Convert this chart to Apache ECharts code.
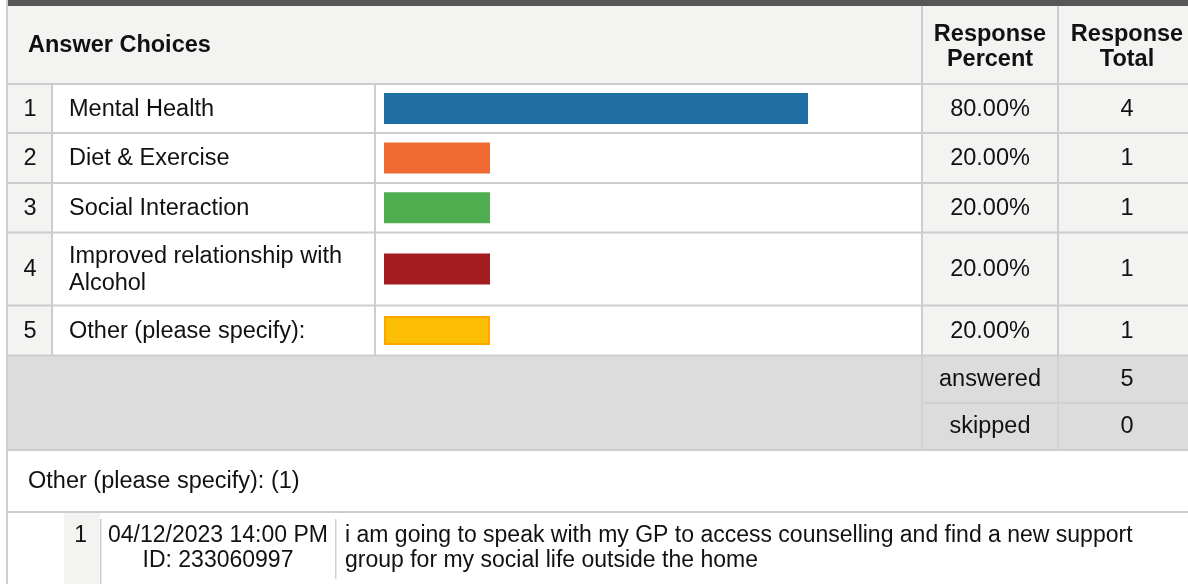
<!DOCTYPE html>
<html>
<head>
<meta charset="utf-8">
<script src="https://cdn.jsdelivr.net/npm/echarts@6/dist/echarts.min.js"></script>
<style>
  html, body { margin: 0; padding: 0; background: #ffffff; }
  #chart { width: 1188px; height: 584px; }
</style>
</head>
<body>
<div id="chart"></div>
<script>
// Survey question results
const choices = [
  'Mental Health',
  'Diet & Exercise',
  'Social Interaction',
  'Improved relationship with\nAlcohol',
  'Other (please specify):'
];
const percents = [80, 20, 20, 20, 20];
const totals = [4, 1, 1, 1, 1];
const summaryLabels = ['answered', 'skipped'];
const summaryValues = [5, 0];
const otherCount = 1;
const commentDates = ['04/12/2023 14:00 PM'];
const commentIds = ['ID: 233060997'];
const commentTexts = [
  'i am going to speak with my GP to access counselling and find a new support\ngroup for my social life outside the home'
];
const barColors = ['#1f6fa5', '#f06a34', '#4faf50', '#a31d20', '#fdbf06'];

// ---- layout ----
const FONT = '"Liberation Sans", Arial, sans-serif';
const W = 1188;
const LEFT = 8;
const COL_NUM_END = 52;
const COL_ANS_END = 375;
const COL_PCT = 922;
const COL_TOT = 1058;
const PCT_CX = 990;
const TOT_CX = 1127;
const BAR_LEFT = 384;
const BAR_FULL = 530;
const HEADER_TOP = 6;
const HEADER_BOTTOM = 84;
const rowHeights = [49, 50, 49.5, 73, 50];
const SUM_ROW_H = 47.25;
const OTHER_ROW_H = 62;

const LINE = '#cdcdcd';
const CELL_GRAY = '#f3f3f2';
const SUM_GRAY = '#dcdcdc';
const TEXT = '#111111';

const rowTops = [];
let acc = HEADER_BOTTOM;
rowHeights.forEach(h => { rowTops.push(acc); acc += h; });
const SUM_TOP = acc;
const SUM_BOTTOM = SUM_TOP + SUM_ROW_H * 2;
const OTHER_TOP = SUM_BOTTOM;
const COMMENT_TOP = OTHER_TOP + OTHER_ROW_H;

function rect(x, y, w, h, fill, z) {
  return { type: 'rect', shape: { x, y, width: w, height: h }, style: { fill }, z: z || 0, silent: true };
}
function text(str, x, y, opts) {
  opts = opts || {};
  return {
    type: 'text', x, y, z: 5, silent: true,
    style: {
      text: str,
      fill: opts.fill || TEXT,
      font: (opts.bold ? 'bold ' : '') + (opts.size || 23.5) + 'px ' + FONT,
      textAlign: opts.align || 'left',
      textVerticalAlign: 'middle',
      lineHeight: opts.lineHeight || 26
    }
  };
}

const g = [];
// header
g.push(rect(LEFT, 0, W - LEFT, HEADER_TOP, '#575757', 1));
g.push(rect(LEFT, HEADER_TOP, W - LEFT, HEADER_BOTTOM - HEADER_TOP, CELL_GRAY));
g.push(text('Answer Choices', 28, 46, { bold: true }));
g.push(text('Response\nPercent', PCT_CX, 47, { bold: true, align: 'center', lineHeight: 25 }));
g.push(text('Response\nTotal', TOT_CX, 47, { bold: true, align: 'center', lineHeight: 25 }));

// answer rows
choices.forEach((c, i) => {
  const top = rowTops[i], h = rowHeights[i], cy = top + h / 2;
  g.push(rect(LEFT, top, COL_NUM_END - LEFT, h, CELL_GRAY));
  g.push(rect(COL_PCT, top, W - COL_PCT, h, CELL_GRAY));
  g.push(text(String(i + 1), 30, cy + 1, { align: 'center' }));
  g.push(text(c, 69, cy + 1, { lineHeight: 26.5 }));
  g.push(text(percents[i].toFixed(2) + '%', PCT_CX, cy + 1, { align: 'center' }));
  g.push(text(String(totals[i]), TOT_CX, cy + 1, { align: 'center' }));
});

// summary rows
g.push(rect(LEFT, SUM_TOP, W - LEFT, SUM_BOTTOM - SUM_TOP, SUM_GRAY));
summaryLabels.forEach((s, i) => {
  const cy = SUM_TOP + SUM_ROW_H * (i + 0.5);
  g.push(text(s, PCT_CX, cy, { align: 'center' }));
  g.push(text(String(summaryValues[i]), TOT_CX, cy, { align: 'center' }));
});
g.push(rect(COL_PCT, SUM_TOP + SUM_ROW_H - 1, W - COL_PCT, 2, '#cfcfcf', 2));
g.push(rect(COL_PCT - 1, SUM_TOP, 2, SUM_BOTTOM - SUM_TOP, '#d2d2d2', 2));
g.push(rect(COL_TOT - 1, SUM_TOP, 2, SUM_BOTTOM - SUM_TOP, '#d2d2d2', 2));

// grid lines of the table
[HEADER_BOTTOM].concat(rowTops.slice(1), [SUM_TOP, SUM_BOTTOM]).forEach(y => {
  g.push(rect(LEFT, y - 1, W - LEFT, 2, LINE, 2));
});
g.push(rect(COL_NUM_END - 1, HEADER_BOTTOM, 2, SUM_TOP - HEADER_BOTTOM, LINE, 2));
g.push(rect(COL_ANS_END - 1, HEADER_BOTTOM, 2, SUM_TOP - HEADER_BOTTOM, LINE, 2));
g.push(rect(COL_PCT - 1, HEADER_TOP, 2, SUM_TOP - HEADER_TOP, LINE, 2));
g.push(rect(COL_TOT - 1, HEADER_TOP, 2, SUM_TOP - HEADER_TOP, LINE, 2));
g.push(rect(LEFT - 2, 0, 2, 584, LINE, 2));

// "Other" responses block
g.push(text('Other (please specify): (' + otherCount + ')', 28, OTHER_TOP + OTHER_ROW_H / 2 + 1));
g.push(rect(LEFT, COMMENT_TOP - 1, W - LEFT, 2, LINE, 2));
commentTexts.forEach((t, i) => {
  const top = COMMENT_TOP + 1;
  g.push(rect(64, top, 36, 584 - top, CELL_GRAY));
  g.push(rect(100, top + 6, 1.5, 584 - top - 6, '#d0d0d0', 2));
  g.push(rect(335, top + 6, 1.5, 60, '#d0d0d0', 2));
  g.push(text(String(i + 1), 87, top + 23, { size: 23, align: 'right' }));
  g.push(text(commentDates[i] + '\n' + commentIds[i], 218, top + 35, { size: 23, align: 'center', lineHeight: 25.5 }));
  g.push(text(t, 345, top + 35, { size: 23, lineHeight: 25.5 }));
});

// one grid per answer row so each bar sits centred in its own row
const grids = [], xAxes = [], yAxes = [], series = [];
choices.forEach((c, i) => {
  grids.push({ left: BAR_LEFT, width: BAR_FULL, top: rowTops[i], height: rowHeights[i], containLabel: false });
  xAxes.push({ type: 'value', gridIndex: i, min: 0, max: 100, show: false });
  yAxes.push({ type: 'category', gridIndex: i, data: [c], show: false });
  const item = { value: percents[i], itemStyle: { color: barColors[i] } };
  if (i === 4) {
    item.itemStyle.borderColor = '#ffa500';
    item.itemStyle.borderWidth = 2;
  }
  series.push({
    type: 'bar', xAxisIndex: i, yAxisIndex: i, barWidth: i === 4 ? 29 : 31,
    data: [item], silent: true, animation: false, z: 3
  });
});

const chart = echarts.init(document.getElementById('chart'), null, { renderer: 'canvas' });
chart.setOption({
  backgroundColor: '#ffffff',
  animation: false,
  grid: grids,
  xAxis: xAxes,
  yAxis: yAxes,
  series: series,
  graphic: { elements: g }
});
</script>
</body>
</html>
